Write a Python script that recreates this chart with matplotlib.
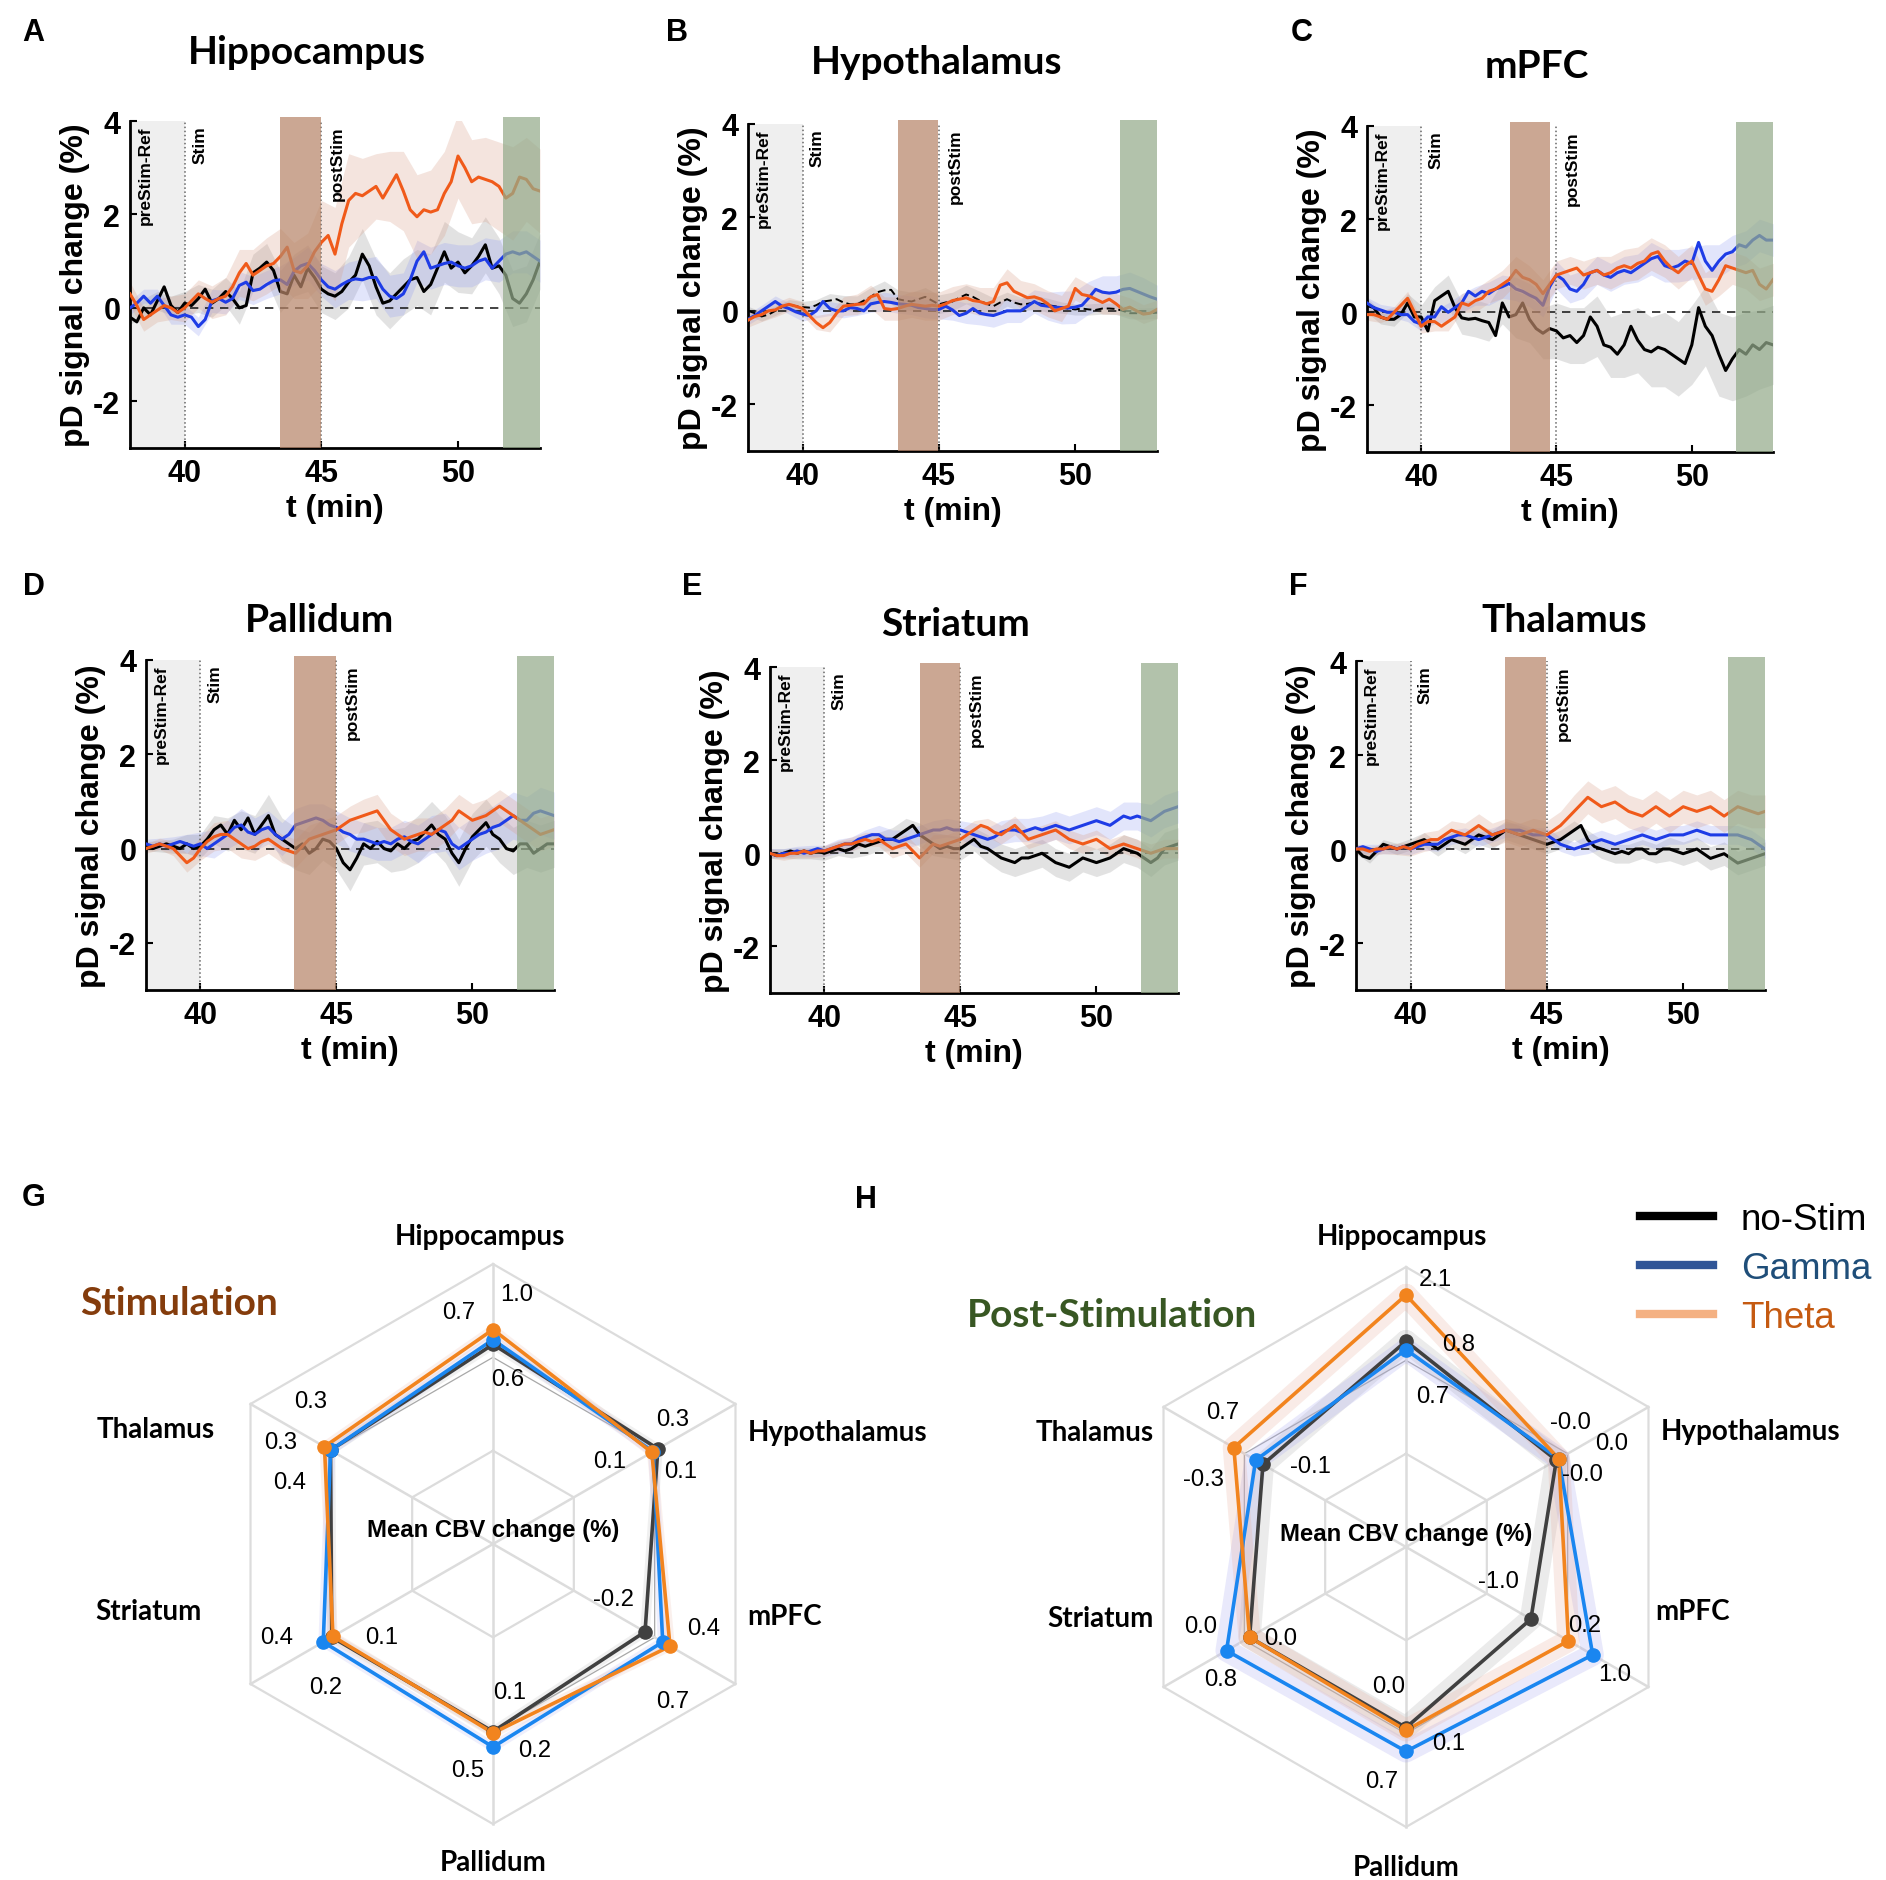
import numpy as np
import matplotlib
matplotlib.use('Agg')
import matplotlib.pyplot as plt
from matplotlib.lines import Line2D
from matplotlib import font_manager as fm

plt.rcParams['font.family'] = ['Liberation Sans', 'DejaVu Sans']
_names = {f.name for f in fm.fontManager.ttflist}
NARROW = 'Liberation Sans Narrow' if 'Liberation Sans Narrow' in _names else 'Liberation Sans'
NARROW_SCALE = 1.0 if NARROW == 'Liberation Sans Narrow' else 0.88
TITLE_FONT = 'Lato' if 'Lato' in _names else 'Liberation Sans'

# ---------------- time-series data (38..53 min, 0.25 min steps) ----------------
A_NOSTIM = [-0.2, -0.3, 0.0, -0.15, 0.15, 0.45, 0.05, -0.1,
            0.1, 0.05, 0.2, 0.4, 0.1, 0.2, 0.35, 0.2,
            0.0, 0.05, 0.75, 0.85, 0.98, 0.8, 0.35, 0.3,
            0.7, 0.45, 0.85, 0.65, 0.4, 0.3, 0.25, 0.35,
            0.55, 0.7, 1.15, 0.9, 0.45, 0.1, 0.15, 0.3,
            0.45, 0.6, 0.65, 0.35, 0.5, 0.85, 1.2, 0.85,
            0.98, 0.75, 0.9, 1.1, 1.35, 0.85, 0.9, 0.7,
            0.2, 0.1, 0.3, 0.6, 1.0]
A_GAMMA = [0.0, 0.1, 0.25, 0.1, 0.25, 0.05, -0.15, -0.2,
           -0.15, -0.2, -0.4, -0.25, 0.15, 0.2, 0.12, 0.2,
           0.48, 0.55, 0.37, 0.4, 0.5, 0.58, 0.6, 0.5,
           0.78, 0.9, 0.95, 0.8, 0.6, 0.45, 0.4, 0.5,
           0.58, 0.62, 0.6, 0.65, 0.65, 0.4, 0.25, 0.2,
           0.3, 0.6, 1.0, 1.2, 0.85, 0.9, 0.95, 0.98,
           0.9, 0.85, 0.9, 1.0, 1.05, 0.85, 1.0, 1.15,
           1.2, 1.15, 1.2, 1.1, 1.0]
A_THETA = [0.30, 0.05, -0.25, -0.15, -0.05, 0.05, 0.0, -0.1,
           0.0, 0.15, 0.3, 0.2, 0.12, 0.2, 0.25, 0.45,
           0.75, 0.95, 0.7, 0.8, 0.9, 0.95, 1.1, 1.3,
           0.8, 0.75, 0.9, 1.2, 1.4, 1.55, 1.15, 1.8,
           2.3, 2.45, 2.4, 2.5, 2.6, 2.35, 2.6, 2.85,
           2.5, 2.1, 1.95, 2.1, 2.05, 2.1, 2.45, 2.7,
           3.25, 3.0, 2.7, 2.8, 2.75, 2.7, 2.6, 2.35,
           2.45, 2.8, 2.75, 2.55, 2.5]

B_NOSTIM = [0.0, -0.05, -0.12, -0.08, 0.0, 0.08, 0.14, 0.1,
            0.08, 0.07, 0.12, 0.2, 0.22, 0.25, 0.18, 0.14,
            0.14, 0.22, 0.3, 0.4, 0.44, 0.45, 0.25, 0.22,
            0.2, 0.25, 0.3, 0.22, 0.14, 0.18, 0.2, 0.28,
            0.35, 0.3, 0.22, 0.15, 0.1, 0.18, 0.25, 0.18,
            0.14, 0.15, 0.18, 0.15, 0.12, 0.1, 0.07, 0.05,
            0.03, 0.05, 0.03, 0.02, 0.05, 0.05, 0.04, 0.0,
            -0.05, -0.05, -0.06, -0.05, -0.04]
B_GAMMA = [-0.18, -0.1, 0.0, 0.1, 0.2, 0.1, 0.05, -0.02,
           -0.07, -0.1, 0.0, 0.2, 0.05, 0.0, 0.0, 0.07,
           0.05, 0.0, 0.15, 0.18, 0.2, 0.18, 0.15, 0.14,
           0.12, 0.07, 0.05, 0.03, 0.03, 0.1, 0.02, -0.1,
           -0.05, 0.05, -0.05, -0.08, -0.1, -0.05, 0.0, 0.0,
           0.0, 0.1, 0.2, 0.12, 0.1, 0.08, 0.07, 0.06,
           0.08, 0.12, 0.28, 0.46, 0.4, 0.38, 0.4, 0.46,
           0.48, 0.42, 0.36, 0.3, 0.25]
B_THETA = [-0.2, -0.12, -0.08, 0.0, 0.02, 0.1, 0.14, 0.1,
           0.05, -0.1, -0.25, -0.36, -0.25, -0.05, 0.1, 0.12,
           0.14, 0.15, 0.3, 0.35, 0.05, 0.03, 0.05, 0.1,
           0.14, 0.12, 0.1, 0.12, 0.1, 0.15, 0.22, 0.25,
           0.28, 0.22, 0.2, 0.15, 0.2, 0.55, 0.6, 0.42,
           0.35, 0.28, 0.3, 0.25, 0.15, 0.0, 0.05, 0.1,
           0.48, 0.35, 0.32, 0.25, 0.18, 0.25, 0.15, 0.03,
           0.08, 0.0, -0.07, -0.05, 0.03]

C_NOSTIM = [0.15, 0.1, -0.1, -0.15, -0.15, -0.05, 0.2, -0.1,
            -0.1, -0.4, 0.25, 0.35, 0.45, 0.1, -0.12, -0.15,
            -0.13, -0.18, -0.22, -0.5, 0.2, -0.1, -0.05, 0.2,
            -0.15, -0.35, -0.45, -0.35, -0.4, -0.55, -0.5, -0.65,
            -0.5, -0.1, -0.3, -0.7, -0.75, -0.9, -0.7, -0.3,
            -0.6, -0.8, -0.85, -0.75, -0.8, -0.9, -1.0, -1.1,
            -0.7, 0.1, -0.3, -0.5, -0.9, -1.25, -1.0, -0.8,
            -0.9, -0.7, -0.8, -0.65, -0.7]
C_GAMMA = [0.2, 0.1, 0.05, 0.0, 0.0, -0.05, -0.05, -0.2,
           -0.25, -0.1, -0.1, 0.12, 0.0, 0.1, 0.2, 0.45,
           0.35, 0.45, 0.4, 0.5, 0.55, 0.62, 0.5, 0.45,
           0.37, 0.3, 0.15, 0.55, 0.8, 0.7, 0.5, 0.45,
           0.6, 0.85, 0.9, 0.8, 0.75, 0.85, 0.9, 0.85,
           0.95, 1.05, 1.15, 1.2, 1.0, 0.95, 1.0, 1.1,
           1.05, 1.5, 1.1, 0.9, 1.1, 1.25, 1.3, 1.45,
           1.4, 1.55, 1.65, 1.55, 1.55]
C_THETA = [-0.05, -0.05, -0.1, -0.15, 0.0, 0.15, 0.3, 0.0,
           -0.3, -0.2, -0.2, -0.3, -0.2, -0.1, 0.2, 0.15,
           0.25, 0.3, 0.45, 0.5, 0.6, 0.7, 0.9, 0.75,
           0.7, 0.6, 0.4, 0.6, 0.8, 0.85, 0.9, 0.95,
           0.8, 0.85, 0.9, 0.8, 0.85, 0.95, 1.0, 0.95,
           1.05, 1.1, 1.25, 1.3, 1.1, 0.95, 0.85, 1.0,
           1.1, 0.8, 0.5, 0.45, 0.7, 1.0, 0.95, 0.9,
           0.85, 0.9, 0.6, 0.5, 0.7]

D_NOSTIM = [0.05, 0.0, 0.05, 0.1, 0.05, 0.0, 0.1, 0.0,
            0.05, 0.2, 0.4, 0.5, 0.3, 0.6, 0.4, 0.65,
            0.3, 0.5, 0.7, 0.3, 0.2, 0.1, 0.0, 0.1,
            -0.1, 0.0, 0.2, 0.15, 0.0, -0.3, -0.45, -0.2,
            0.1, 0.0, 0.15, 0.0, -0.05, 0.1, 0.0, 0.15,
            0.2, 0.35, 0.5, 0.3, 0.2, -0.1, -0.3, 0.0,
            0.25, 0.4, 0.55, 0.3, 0.2, 0.0, -0.05, 0.1,
            0.1, -0.1, 0.0, 0.1, 0.1]
D_GAMMA = [0.1, 0.05, 0.1, 0.05, 0.1, 0.15, 0.1, 0.05,
           0.1, 0.0, 0.1, 0.2, 0.3, 0.45, 0.5, 0.35,
           0.3, 0.4, 0.45, 0.3, 0.2, 0.3, 0.5, 0.55,
           0.6, 0.65, 0.6, 0.5, 0.45, 0.35, 0.3, 0.2,
           0.2, 0.15, 0.1, 0.15, 0.1, 0.2, 0.25, 0.15,
           0.1, 0.2, 0.3, 0.4, 0.35, 0.1, 0.0, 0.1,
           0.2, 0.3, 0.35, 0.45, 0.5, 0.6, 0.7, 0.6,
           0.6, 0.75, 0.8, 0.75, 0.7]
D_THETA = [0.0, 0.05, 0.1, 0.05, 0.0, -0.15, -0.3, -0.2,
           0.0, 0.15, 0.25, 0.3, 0.3, 0.2, 0.1, 0.0,
           0.05, 0.15, 0.2, 0.1, 0.0, -0.05, -0.1, 0.05,
           0.2, 0.25, 0.3, 0.35, 0.4, 0.5, 0.6, 0.65,
           0.7, 0.75, 0.8, 0.6, 0.4, 0.3, 0.2, 0.25,
           0.3, 0.35, 0.3, 0.4, 0.5, 0.6, 0.8, 0.7,
           0.6, 0.65, 0.7, 0.8, 0.9, 0.8, 0.7, 0.6,
           0.5, 0.4, 0.3, 0.35, 0.4]

E_NOSTIM = [0.0, -0.05, 0.0, 0.05, 0.0, 0.05, 0.0, 0.05,
            0.0, 0.05, 0.1, 0.05, 0.1, 0.2, 0.15, 0.2,
            0.25, 0.3, 0.3, 0.4, 0.5, 0.6, 0.4, 0.3,
            0.2, 0.1, 0.15, 0.1, 0.1, 0.2, 0.3, 0.15,
            0.1, 0.0, -0.1, -0.15, -0.2, -0.1, -0.1, -0.05,
            0.0, -0.1, -0.2, -0.25, -0.3, -0.2, -0.1, -0.15,
            -0.2, -0.15, -0.1, 0.0, 0.1, 0.05, 0.0, -0.1,
            -0.2, -0.1, 0.1, 0.15, 0.2]
E_GAMMA = [0.0, -0.05, 0.0, 0.0, 0.05, 0.0, 0.05, 0.1,
           0.05, 0.1, 0.15, 0.2, 0.2, 0.3, 0.35, 0.4,
           0.4, 0.3, 0.3, 0.25, 0.3, 0.35, 0.4, 0.45,
           0.5, 0.5, 0.55, 0.5, 0.5, 0.45, 0.4, 0.35,
           0.3, 0.35, 0.45, 0.5, 0.5, 0.45, 0.5, 0.55,
           0.5, 0.55, 0.6, 0.55, 0.5, 0.55, 0.6, 0.65,
           0.7, 0.65, 0.6, 0.7, 0.8, 0.75, 0.8, 0.75,
           0.7, 0.8, 0.9, 0.95, 1.0]
E_THETA = [0.0, -0.05, -0.05, 0.0, 0.0, 0.05, 0.0, 0.05,
           0.05, 0.1, 0.15, 0.2, 0.2, 0.25, 0.3, 0.25,
           0.3, 0.2, 0.1, 0.15, 0.2, 0.05, -0.1, 0.05,
           0.2, 0.15, 0.2, 0.25, 0.3, 0.4, 0.5, 0.6,
           0.55, 0.45, 0.4, 0.5, 0.6, 0.45, 0.3, 0.35,
           0.4, 0.45, 0.5, 0.4, 0.3, 0.25, 0.2, 0.25,
           0.3, 0.2, 0.1, 0.15, 0.2, 0.15, 0.1, 0.05,
           0.0, 0.05, 0.1, 0.1, 0.1]

F_NOSTIM = [0.0, -0.15, -0.2, -0.05, 0.1, 0.05, 0.0, 0.05,
            0.1, 0.15, 0.2, 0.1, 0.0, 0.1, 0.2, 0.15,
            0.1, 0.2, 0.3, 0.25, 0.2, 0.3, 0.4, 0.35,
            0.3, 0.25, 0.2, 0.15, 0.1, 0.15, 0.2, 0.3,
            0.4, 0.5, 0.2, 0.05, 0.0, -0.05, -0.1, -0.05,
            -0.1, 0.0, 0.0, -0.1, -0.1, 0.0, 0.0, -0.05,
            -0.1, -0.05, 0.0, -0.1, -0.2, -0.15, -0.1, -0.2,
            -0.3, -0.25, -0.2, -0.15, -0.1]
F_GAMMA = [0.0, 0.05, 0.0, -0.05, 0.0, 0.05, 0.0, 0.05,
           0.0, 0.05, 0.1, 0.1, 0.1, 0.2, 0.25, 0.3,
           0.3, 0.25, 0.2, 0.25, 0.3, 0.35, 0.4, 0.4,
           0.4, 0.35, 0.3, 0.3, 0.3, 0.2, 0.1, 0.05,
           0.0, 0.05, 0.1, 0.15, 0.2, 0.15, 0.1, 0.15,
           0.2, 0.25, 0.3, 0.25, 0.2, 0.25, 0.3, 0.3,
           0.3, 0.35, 0.4, 0.35, 0.3, 0.3, 0.3, 0.3,
           0.3, 0.25, 0.2, 0.1, 0.0]
F_THETA = [0.0, 0.0, -0.05, 0.0, 0.0, 0.05, 0.0, 0.05,
           0.0, 0.1, 0.15, 0.2, 0.2, 0.3, 0.4, 0.35,
           0.3, 0.4, 0.5, 0.4, 0.3, 0.35, 0.4, 0.35,
           0.3, 0.35, 0.4, 0.35, 0.3, 0.4, 0.5, 0.65,
           0.8, 0.95, 1.1, 1.0, 0.9, 0.95, 1.0, 0.9,
           0.8, 0.75, 0.7, 0.8, 0.9, 0.8, 0.7, 0.8,
           0.9, 0.85, 0.8, 0.85, 0.9, 0.8, 0.7, 0.8,
           0.9, 0.85, 0.8, 0.75, 0.8]

# band half-widths (SEM), 0.5 min steps
A_NOSTIM_SD = [0.15, 0.2, 0.2, 0.2, 0.25, 0.3, 0.3, 0.3, 0.35, 0.4, 0.4, 0.45, 0.45, 0.5, 0.5, 0.5,
               0.55, 0.55, 0.6, 0.6, 0.6, 0.6, 0.65, 0.65, 0.65, 0.6, 0.6, 0.6, 0.6, 0.6, 0.6]
A_GAMMA_SD = [0.15, 0.15, 0.15, 0.2, 0.2, 0.2, 0.25, 0.25, 0.3, 0.3, 0.3, 0.3, 0.3, 0.35, 0.35, 0.4,
              0.4, 0.45, 0.45, 0.45, 0.45, 0.45, 0.45, 0.45, 0.45, 0.45, 0.45, 0.45, 0.45, 0.45, 0.45]
A_THETA_SD = [0.25, 0.25, 0.25, 0.25, 0.3, 0.3, 0.35, 0.4, 0.5, 0.55, 0.6, 0.6, 0.6, 0.7, 0.9, 1.0,
              1.0, 0.8, 0.7, 0.75, 0.85, 0.9, 0.9, 0.9, 0.9, 0.9, 0.9, 0.95, 1.0, 0.9, 0.9]
B_NOSTIM_SD = [0.1, 0.1, 0.1, 0.1, 0.12, 0.12, 0.15, 0.15, 0.18, 0.2, 0.2, 0.2, 0.2, 0.2, 0.2, 0.2,
               0.2, 0.2, 0.18, 0.15, 0.15, 0.15, 0.15, 0.12, 0.12, 0.12, 0.12, 0.12, 0.12, 0.12, 0.12]
B_GAMMA_SD = [0.12, 0.12, 0.12, 0.12, 0.15, 0.15, 0.15, 0.15, 0.15, 0.18, 0.2, 0.2, 0.2, 0.2, 0.2, 0.22,
              0.22, 0.25, 0.25, 0.25, 0.25, 0.25, 0.3, 0.35, 0.35, 0.35, 0.35, 0.35, 0.35, 0.35, 0.3]
B_THETA_SD = [0.15, 0.15, 0.15, 0.15, 0.15, 0.15, 0.2, 0.2, 0.22, 0.25, 0.25, 0.25, 0.28, 0.3, 0.3, 0.3,
              0.3, 0.3, 0.3, 0.3, 0.3, 0.28, 0.28, 0.28, 0.25, 0.25, 0.25, 0.22, 0.2, 0.2, 0.2]
C_NOSTIM_SD = [0.15, 0.15, 0.15, 0.2, 0.25, 0.3, 0.35, 0.35, 0.4, 0.4, 0.45, 0.5, 0.5, 0.55, 0.6, 0.6,
               0.6, 0.65, 0.65, 0.7, 0.7, 0.75, 0.8, 0.8, 0.85, 0.85, 0.9, 0.9, 0.9, 0.85, 0.85]
C_GAMMA_SD = [0.12, 0.12, 0.12, 0.15, 0.15, 0.15, 0.2, 0.2, 0.2, 0.25, 0.25, 0.25, 0.25, 0.25, 0.3, 0.3,
              0.3, 0.3, 0.3, 0.3, 0.3, 0.35, 0.35, 0.35, 0.35, 0.35, 0.35, 0.35, 0.35, 0.35, 0.35]
C_THETA_SD = [0.12, 0.12, 0.12, 0.15, 0.15, 0.2, 0.2, 0.2, 0.25, 0.25, 0.3, 0.3, 0.3, 0.3, 0.3, 0.3,
              0.3, 0.3, 0.35, 0.35, 0.35, 0.35, 0.35, 0.35, 0.35, 0.35, 0.35, 0.35, 0.35, 0.35, 0.35]
D_NOSTIM_SD = [0.1, 0.12, 0.15, 0.2, 0.25, 0.3, 0.35, 0.4, 0.4, 0.45, 0.45, 0.45, 0.45, 0.45, 0.45, 0.45,
               0.45, 0.45, 0.45, 0.45, 0.5, 0.5, 0.5, 0.5, 0.5, 0.5, 0.5, 0.5, 0.5, 0.5, 0.5]
D_GAMMA_SD = [0.1, 0.12, 0.15, 0.2, 0.25, 0.3, 0.3, 0.35, 0.35, 0.35, 0.35, 0.35, 0.35, 0.35, 0.35, 0.35,
              0.35, 0.35, 0.35, 0.35, 0.4, 0.4, 0.4, 0.45, 0.45, 0.45, 0.5, 0.5, 0.5, 0.5, 0.5]
D_THETA_SD = [0.1, 0.12, 0.15, 0.2, 0.25, 0.3, 0.3, 0.3, 0.3, 0.3, 0.3, 0.3, 0.3, 0.3, 0.3, 0.3,
              0.35, 0.35, 0.35, 0.35, 0.35, 0.35, 0.35, 0.35, 0.35, 0.35, 0.35, 0.35, 0.35, 0.35, 0.35]
E_NOSTIM_SD = [0.1, 0.1, 0.12, 0.12, 0.15, 0.15, 0.2, 0.2, 0.2, 0.25, 0.25, 0.25, 0.25, 0.25, 0.25, 0.25,
               0.3, 0.3, 0.3, 0.3, 0.3, 0.3, 0.3, 0.3, 0.3, 0.3, 0.3, 0.3, 0.3, 0.35, 0.35]
E_GAMMA_SD = [0.1, 0.1, 0.1, 0.12, 0.12, 0.15, 0.15, 0.15, 0.2, 0.2, 0.2, 0.2, 0.2, 0.2, 0.2, 0.25,
              0.25, 0.25, 0.25, 0.25, 0.3, 0.3, 0.3, 0.3, 0.3, 0.3, 0.3, 0.3, 0.35, 0.35, 0.35]
E_THETA_SD = [0.1, 0.1, 0.1, 0.1, 0.12, 0.12, 0.15, 0.15, 0.15, 0.2, 0.2, 0.2, 0.2, 0.2, 0.2, 0.2,
              0.2, 0.2, 0.2, 0.2, 0.2, 0.2, 0.2, 0.2, 0.2, 0.2, 0.2, 0.2, 0.2, 0.2, 0.2]
F_NOSTIM_SD = [0.1, 0.1, 0.1, 0.12, 0.12, 0.15, 0.15, 0.15, 0.2, 0.2, 0.2, 0.2, 0.2, 0.2, 0.2, 0.2,
               0.2, 0.2, 0.2, 0.2, 0.2, 0.2, 0.2, 0.25, 0.25, 0.25, 0.25, 0.25, 0.25, 0.25, 0.25]
F_GAMMA_SD = [0.1, 0.1, 0.1, 0.1, 0.12, 0.12, 0.15, 0.15, 0.15, 0.15, 0.15, 0.15, 0.15, 0.15, 0.15, 0.15,
              0.15, 0.2, 0.2, 0.2, 0.2, 0.2, 0.2, 0.2, 0.2, 0.2, 0.2, 0.2, 0.2, 0.2, 0.2]
F_THETA_SD = [0.1, 0.1, 0.1, 0.12, 0.15, 0.2, 0.2, 0.2, 0.25, 0.25, 0.25, 0.25, 0.25, 0.25, 0.3, 0.3,
              0.35, 0.35, 0.35, 0.35, 0.35, 0.35, 0.35, 0.35, 0.35, 0.35, 0.35, 0.35, 0.35, 0.35, 0.35]

REGIONS_TS = ['Hippocampus', 'Hypothalamus', 'mPFC', 'Pallidum', 'Striatum', 'Thalamus']
PANEL_KEYS = ['A', 'B', 'C', 'D', 'E', 'F']
STIM_WINDOW = {'A': (43.5, 45.0), 'B': (43.5, 44.95), 'C': (43.3, 44.75),
               'D': (43.45, 45.0), 'E': (43.5, 45.0), 'F': (43.45, 44.95)}
POST_WINDOW = (51.65, 53.0)
X_TICKS = [40, 45, 50]
Y_TICKS = [-2, 0, 2, 4]

# ---------------- radar data (normalised radial position) ----------------
RADAR_AXES = ['Hippocampus', 'Hypothalamus', 'mPFC', 'Pallidum', 'Striatum', 'Thalamus']
G_NOSTIM = [0.713, 0.68, 0.627, 0.67, 0.665, 0.67]
G_GAMMA = [0.73, 0.66, 0.70, 0.725, 0.70, 0.67]
G_THETA = [0.766, 0.655, 0.73, 0.675, 0.66, 0.695]
H_NOSTIM = [0.735, 0.62, 0.515, 0.645, 0.645, 0.59]
H_GAMMA = [0.705, 0.63, 0.77, 0.73, 0.74, 0.62]
H_THETA = [0.90, 0.63, 0.67, 0.655, 0.645, 0.71]
G_NUM_TXT = [['1.0', '0.7', '0.6'], ['0.3', '0.1', '0.1'], ['-0.2', '0.4', '0.7'],
             ['0.1', '0.2', '0.5'], ['0.4', '0.1', '0.2'], ['0.3', '0.3', '0.4']]
H_NUM_TXT = [['2.1', '0.8', '0.7'], ['-0.0', '0.0', '-0.0'], ['-1.0', '0.2', '1.0'],
             ['0.0', '0.1', '0.7'], ['0.0', '0.0', '0.8'], ['0.7', '-0.3', '-0.1']]
LEG_LABELS = ['no-Stim', 'Gamma', 'Theta']

# ---------------- layout / styles ----------------
W, H = 1886, 1881
fig = plt.figure(figsize=(W / 100, H / 100), dpi=100)

def px_axes(l, t, r, b):
    return fig.add_axes([l / W, 1 - b / H, (r - l) / W, (b - t) / H])

def fx(x):
    return x / W

def fy(y):
    return 1 - y / H

TS_AXES_PX = {'A': (130, 122, 540, 449), 'B': (748, 125, 1157, 452), 'C': (1367, 127, 1773, 453),
              'D': (146, 661, 554, 991), 'E': (770, 668, 1178, 994), 'F': (1356, 662, 1765, 991)}
TITLE_PX = {'A': (307, 52), 'B': (937, 62), 'C': (1537, 66),
            'D': (320, 620), 'E': (956, 625), 'F': (1564, 620)}
LETTER_PX = {'A': (33, 33), 'B': (677, 33), 'C': (1302, 33),
             'D': (34, 587), 'E': (692, 587), 'F': (1298, 587), 'G': (34, 1198), 'H': (866, 1200)}

C_NOSTIM_L = '#000000'
C_GAMMA_L = '#1E3CE6'
C_THETA_L = '#F05A1A'
C_NOSTIM_B = '#9A9A9A'
C_GAMMA_B = '#8E98F2'
C_THETA_B = '#D9A08A'
C_PRE = '#EFEFEF'
C_STIM = '#B88669'
C_POST = '#94AB8B'

TS_DATA = {
    'A': [(A_NOSTIM, A_NOSTIM_SD), (A_GAMMA, A_GAMMA_SD), (A_THETA, A_THETA_SD)],
    'B': [(B_NOSTIM, B_NOSTIM_SD), (B_GAMMA, B_GAMMA_SD), (B_THETA, B_THETA_SD)],
    'C': [(C_NOSTIM, C_NOSTIM_SD), (C_GAMMA, C_GAMMA_SD), (C_THETA, C_THETA_SD)],
    'D': [(D_NOSTIM, D_NOSTIM_SD), (D_GAMMA, D_GAMMA_SD), (D_THETA, D_THETA_SD)],
    'E': [(E_NOSTIM, E_NOSTIM_SD), (E_GAMMA, E_GAMMA_SD), (E_THETA, E_THETA_SD)],
    'F': [(F_NOSTIM, F_NOSTIM_SD), (F_GAMMA, F_GAMMA_SD), (F_THETA, F_THETA_SD)],
}

for key, region in zip(PANEL_KEYS, REGIONS_TS):
    ax = px_axes(*TS_AXES_PX[key])
    ax.set_xlim(38, 53)
    ax.set_ylim(-3, 4)
    ax.axvspan(38, 40, color=C_PRE, lw=0, zorder=0)
    styles = [(C_NOSTIM_L, C_NOSTIM_B, 0.28), (C_GAMMA_L, C_GAMMA_B, 0.25), (C_THETA_L, C_THETA_B, 0.28)]
    for (y, sd), (lc, bc, ba) in zip(TS_DATA[key], styles):
        y = np.asarray(y, float)
        sd = np.asarray(sd, float)
        t = np.linspace(38, 53, len(y))
        t2 = np.linspace(38, 53, len(sd))
        c2 = np.interp(t2, t, y)
        ax.fill_between(t2, c2 - sd, c2 + sd, color=bc, alpha=ba, lw=0, zorder=1)
    ax.axhline(0, color='#222222', lw=1.2, ls=(0, (5, 4)), zorder=2)
    ax.axvline(40, color='#666666', lw=1.1, ls=':', zorder=2)
    ax.axvline(45, color='#666666', lw=1.1, ls=':', zorder=2)
    for i, ((y, sd), (lc, bc, ba)) in enumerate(zip(TS_DATA[key], styles)):
        t = np.linspace(38, 53, len(y))
        if key == 'B' and i == 0:
            ax.plot(t, y, color=lc, lw=1.4, ls=(0, (4, 2)), zorder=3)
        else:
            ax.plot(t, y, color=lc, lw=2.2, zorder=3)
    s0, s1 = STIM_WINDOW[key]
    ax.axvspan(s0, s1, ymin=0, ymax=1.012, color=C_STIM, alpha=0.72, lw=0, zorder=4, clip_on=False)
    ax.axvspan(POST_WINDOW[0], POST_WINDOW[1], ymin=0, ymax=1.012, color=C_POST, alpha=0.72, lw=0,
               zorder=4, clip_on=False)
    for tx, lab in [(38.55, 'preStim-Ref'), (40.55, 'Stim'), (45.6, 'postStim')]:
        ax.text(tx, 3.9, lab, rotation=90, ha='center', va='top', fontsize=12.5,
                fontweight='bold', zorder=5)
    for sp in ['top', 'right']:
        ax.spines[sp].set_visible(False)
    for sp in ['left', 'bottom']:
        ax.spines[sp].set_linewidth(2.0)
    ax.set_xticks(X_TICKS)
    ax.set_xticklabels([str(v) for v in X_TICKS], fontsize=22, fontweight='bold')
    ax.set_yticks(Y_TICKS)
    ax.set_yticklabels([str(v) for v in Y_TICKS], fontsize=22, fontweight='bold')
    ax.tick_params(direction='in', length=5, width=1.5, pad=7)
    ax.set_xlabel('t (min)', fontsize=23, fontweight='bold', labelpad=4)
    ax.set_ylabel('pD signal change (%)', fontsize=23, fontweight='bold', labelpad=2)
    tx, ty = TITLE_PX[key]
    fig.text(fx(tx), fy(ty), region, ha='center', va='center', fontsize=28,
             fontweight='bold', family=TITLE_FONT)

for key, (lx, ly) in LETTER_PX.items():
    fig.text(fx(lx), fy(ly), key, ha='center', va='center', fontsize=22, fontweight='bold')

# ---------------- radar charts ----------------
ANG = np.deg2rad([90, 30, -30, -90, -150, 150])
R_PX = 280
XL, YL = 1.62, 1.19

G_NUM_POS = [[(0.086, 0.893), (-0.121, 0.829), (0.054, 0.589)],
             [(0.643, 0.446), (0.418, 0.296), (0.671, 0.261)],
             [(0.432, -0.196), (0.754, -0.300), (0.643, -0.561)],
             [(0.061, -0.529), (0.150, -0.736), (-0.089, -0.807)],
             [(-0.771, -0.332), (-0.396, -0.332), (-0.596, -0.511)],
             [(-0.650, 0.511), (-0.757, 0.364), (-0.725, 0.221)]]
H_NUM_POS = [[(0.104, 0.957), (0.189, 0.725), (0.096, 0.539)],
             [(0.586, 0.446), (0.736, 0.371), (0.629, 0.261)],
             [(0.329, -0.121), (0.639, -0.279), (0.746, -0.454)],
             [(-0.062, -0.496), (0.154, -0.700), (-0.086, -0.836)],
             [(-0.732, -0.282), (-0.448, -0.325), (-0.661, -0.471)],
             [(-0.654, 0.482), (-0.722, 0.243), (-0.343, 0.289)]]
G_NAME_POS = [(-0.046, 1.10), (1.232, 0.40), (1.043, -0.257), (0.0, -1.136), (-1.232, -0.239), (-1.204, 0.41)]
H_NAME_POS = [(-0.014, 1.11), (1.229, 0.414), (1.025, -0.229), (0.0, -1.143), (-1.091, -0.254), (-1.111, 0.411)]

RC_NOSTIM = '#404040'
RC_GAMMA = '#1A86F0'
RC_THETA = '#F2841E'
RB_NOSTIM = '#B0B0B0'
RB_GAMMA = '#A8A8F0'
RB_THETA = '#E8B0A0'


def radar(center, series, num_txt, num_pos, name_pos, title, title_pos, title_color, band_w, band_a):
    cx, cy = center
    ax = px_axes(cx - XL * R_PX, cy - YL * R_PX, cx + XL * R_PX, cy + YL * R_PX)
    ax.set_xlim(-XL, XL)
    ax.set_ylim(-YL, YL)
    ax.axis('off')
    ux, uy = np.cos(ANG), np.sin(ANG)
    for r, col, lw in [(1 / 3, '#DCDCDC', 1.6), (2 / 3, '#A8A8A8', 0.9), (1.0, '#DCDCDC', 1.6)]:
        ax.plot(np.append(r * ux, r * ux[0]), np.append(r * uy, r * uy[0]), color=col, lw=lw, zorder=1)
    for a, b in zip(ux, uy):
        ax.plot([0, a], [0, b], color='#DCDCDC', lw=1.8, zorder=1)
    for vals, lc, bc in series:
        v = np.asarray(vals)
        x = np.append(v * ux, v[0] * ux[0])
        y = np.append(v * uy, v[0] * uy[0])
        ax.plot(x, y, color=bc, lw=band_w, alpha=band_a, solid_joinstyle='round',
                solid_capstyle='round', zorder=2)
    for vals, lc, bc in series:
        v = np.asarray(vals)
        x = np.append(v * ux, v[0] * ux[0])
        y = np.append(v * uy, v[0] * uy[0])
        ax.plot(x, y, color=lc, lw=2.6, zorder=3)
        ax.plot(v * ux, v * uy, ls='none', marker='o', ms=9.5, color=lc, zorder=4)
    for txts, poss in zip(num_txt, num_pos):
        for t, (px, py) in zip(txts, poss):
            ax.text(px, py, t, ha='center', va='center', fontsize=19.5 * NARROW_SCALE,
                    family=NARROW, zorder=5)
    for name, (px, py) in zip(RADAR_AXES, name_pos):
        ax.text(px, py, name, ha='center', va='center', fontsize=20, fontweight='bold',
                family=TITLE_FONT, zorder=5)
    ax.text(0.0, 0.05, 'Mean CBV change (%)', ha='center', va='center', fontsize=19.5 * NARROW_SCALE,
            fontweight='bold', family=NARROW, zorder=5)
    ax.text(title_pos[0], title_pos[1], title, ha='center', va='center', fontsize=28,
            fontweight='bold', family=TITLE_FONT, color=title_color, zorder=5)
    return ax


radar((493, 1545),
      [(G_NOSTIM, RC_NOSTIM, RB_NOSTIM), (G_GAMMA, RC_GAMMA, RB_GAMMA), (G_THETA, RC_THETA, RB_THETA)],
      G_NUM_TXT, G_NUM_POS, G_NAME_POS, 'Stimulation', (-1.121, 0.861), '#843C0C', 7, 0.18)
radar((1406, 1548),
      [(H_NOSTIM, RC_NOSTIM, RB_NOSTIM), (H_GAMMA, RC_GAMMA, RB_GAMMA), (H_THETA, RC_THETA, RB_THETA)],
      H_NUM_TXT, H_NUM_POS, H_NAME_POS, 'Post-Stimulation', (-1.05, 0.829), '#385723', 16, 0.25)

LEG_LINE_COLORS = ['#000000', '#2F5597', '#F4B183']
LEG_TEXT_COLORS = ['#000000', '#1F4E79', '#C55A11']
handles = [Line2D([], [], color=c, lw=6) for c in LEG_LINE_COLORS]
fig.legend(handles, LEG_LABELS, loc='upper left', bbox_to_anchor=(fx(1625), fy(1188)),
           borderaxespad=0, frameon=False, fontsize=26.5, handlelength=2.0, handletextpad=0.75,
           labelspacing=0.38, labelcolor=LEG_TEXT_COLORS)

fig.savefig('out.png', dpi=100)
